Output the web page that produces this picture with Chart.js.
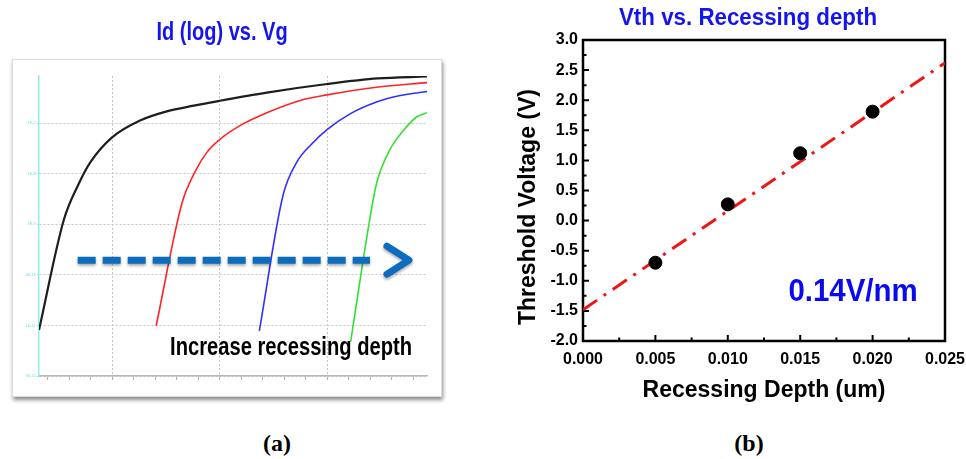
<!DOCTYPE html>
<html>
<head>
<meta charset="utf-8">
<script src="https://cdn.jsdelivr.net/npm/chart.js@4.4.1/dist/chart.umd.min.js"></script>
<style>
  html, body { margin: 0; padding: 0; background: #fff; overflow: hidden; }
  body { width: 966px; height: 459px; position: relative; }
  #frame { position: absolute; left: 12px; top: 59px; width: 428px; height: 336px; background: #fff;
           border: 1px solid #dcdcdc; box-shadow: 1px 3px 4px rgba(0,0,0,0.45); }
  canvas { position: absolute; }
  #idChart { left: 0; top: 0; }
  #vthChart { left: 510px; top: 0; }
  .cap { position: absolute; top: 430px; width: 60px; text-align: center; line-height: 28px;
         font: bold 24px "Liberation Serif", "Times New Roman", serif; color: #000; }
</style>
</head>
<body>
<div id="frame"></div>
<canvas id="idChart" width="444" height="410"></canvas>
<canvas id="vthChart" width="476" height="420"></canvas>
<div class="cap" style="left:247px">(a)</div>
<div class="cap" style="left:719px">(b)</div>
<script>
const SANS = '"Liberation Sans", Arial, sans-serif';

// (a) Id (log) vs Vg, four curves
const blackVg = [-0.68, -0.45, -0.31, -0.2, 0.0, 0.26, 0.51, 0.76, 1.0, 1.44, 2.0, 2.47, 2.93];
const blackId = [8.1e-12, 1.2e-9, 6.3e-9, 1.7e-8, 5.2e-8, 1.12e-7, 1.7e-7, 2.2e-7, 2.75e-7, 4.0e-7, 5.9e-7, 7.6e-7, 8.3e-7];
const redVg = [0.41, 0.65, 0.77, 0.88, 1.0, 1.19, 1.44, 1.75, 2.0, 2.46, 2.93];
const redId = [9.8e-12, 2.6e-9, 1.07e-8, 2.6e-8, 4.7e-8, 8.9e-8, 1.6e-7, 2.8e-7, 3.6e-7, 5.1e-7, 6.3e-7];
const blueVg = [1.37, 1.59, 1.72, 1.86, 2.0, 2.21, 2.46, 2.68, 2.93];
const blueId = [7.8e-12, 3.7e-9, 1.7e-8, 3.9e-8, 7.4e-8, 1.5e-7, 2.6e-7, 3.5e-7, 4.2e-7];
const greenVg = [2.22, 2.39, 2.46, 2.59, 2.71, 2.83, 2.93];
const greenId = [4.8e-12, 1.0e-9, 6.3e-9, 3.1e-8, 7.1e-8, 1.3e-7, 1.6e-7];
const vgTicks = [-0.6, -0.4, -0.2, 0, 0.2, 0.4, 0.6, 0.8, 1, 1.2, 1.4, 1.6, 1.8, 2, 2.2, 2.4, 2.6, 2.8];
const idTicks = [1e-12, 1e-11, 1e-10, 1e-9, 1e-8, 1e-7];
const arrowVg = [-0.32, 2.79];
const arrowId = 1.95e-10;

// (b) Vth vs recessing depth
const depthUm = [0.005, 0.010, 0.015, 0.020];
const vthV = [-0.70, 0.27, 1.12, 1.81];
const fitDepth = [0, 0.025];
const fitVth = [-1.48, 2.62];
const depthTicks = [0, 0.0025, 0.005, 0.0075, 0.01, 0.0125, 0.015, 0.0175, 0.02, 0.0225, 0.025];
const vthTicks = [-2, -1.75, -1.5, -1.25, -1, -0.75, -0.5, -0.25, 0, 0.25, 0.5, 0.75, 1, 1.25, 1.5, 1.75, 2, 2.25, 2.5, 2.75, 3];

function pts(xs, ys) {
    return xs.map((v, i) => ({x: v, y: ys[i]}));
}

function curve(xs, ys, color, w) {
    return {data: pts(xs, ys), showLine: true, borderColor: color, borderWidth: w,
            pointRadius: 0, cubicInterpolationMode: 'monotone', fill: false};
}

function isWhole(v, step) {
    const r = v / step;
    return Math.abs(r - Math.round(r)) < 1e-6;
}

// no condensed font installed, so squeeze bold sans horizontally
function narrowText(ctx, text, x, y, size, sx, color, rot) {
    ctx.save();
    ctx.translate(x, y);
    if (rot) ctx.rotate(rot);
    ctx.scale(sx, 1);
    ctx.fillStyle = color;
    ctx.font = 'bold ' + size + 'px ' + SANS;
    ctx.textAlign = 'center';
    ctx.textBaseline = 'middle';
    ctx.fillText(text, 0, 0);
    ctx.restore();
}

//arrow + caption on panel (a)
const recessArrow = {
    id: 'recessArrow',
    afterDatasetsDraw(chart) {
        const {ctx, scales: {x, y}} = chart;
        const x0 = x.getPixelForValue(arrowVg[0]);
        const x1 = x.getPixelForValue(arrowVg[1]);
        const yy = y.getPixelForValue(arrowId);
        ctx.save();
        ctx.shadowColor = 'rgba(0,0,0,0.35)';
        ctx.shadowBlur = 3;
        ctx.shadowOffsetY = 2;
        ctx.strokeStyle = '#0c6cbd';
        ctx.lineWidth = 7;
        ctx.setLineDash([18, 7]);
        ctx.beginPath();
        ctx.moveTo(x0, yy);
        ctx.lineTo(x1 - 42, yy);
        ctx.stroke();
        ctx.setLineDash([]);
        ctx.lineCap = 'round';
        ctx.lineJoin = 'round';
        ctx.lineWidth = 7;
        ctx.beginPath();
        ctx.moveTo(x1 - 25, yy - 14);
        ctx.lineTo(x1 - 3, yy);
        ctx.lineTo(x1 - 25, yy + 14);
        ctx.stroke();
        ctx.restore();

        narrowText(ctx, 'Increase recessing depth', x.getPixelForValue(1.665), y.getPixelForValue(3.6e-12), 25.5, 0.79, '#000');
        narrowText(ctx, 'Id (log) vs. Vg', 222, 33, 26, 0.77, '#1414f0');
    }
};

new Chart(document.getElementById('idChart'), {
    type: 'scatter',
    data: {
        datasets: [
            curve(blackVg, blackId, '#1e1e1e', 2.2),
            curve(redVg, redId, '#ff2424', 1.6),
            curve(blueVg, blueId, '#2f2fff', 1.6),
            curve(greenVg, greenId, '#33e033', 1.6)
        ]
    },
    options: {
        responsive: false,
        animation: false,
        layout: {padding: {left: 25, right: 17, top: 76, bottom: 30}},
        plugins: {
            legend: {display: false},
            tooltip: {enabled: false}
        },
        scales: {
            x: {
                type: 'linear', min: -0.68, max: 2.93,
                afterBuildTicks: s => { s.ticks = vgTicks.map(v => ({value: v})); },
                ticks: {display: false},
                grid: {color: c => isWhole(c.tick.value, 1) ? '#c6c6c6' : 'rgba(0,0,0,0)',
                       tickColor: '#b0b0b0', tickLength: 4},
                border: {color: '#b8b8b8', width: 1.5, dash: [2, 2]}
            },
            y: {
                type: 'logarithmic', min: 1e-12, max: 8.5e-7,
                afterBuildTicks: s => { s.ticks = idTicks.map(v => ({value: v})); },
                afterFit: s => { s.width = 14; },
                ticks: {color: '#6fe3ea', font: {size: 4}, padding: 1,
                        callback: v => '1E' + Math.round(Math.log10(v))},
                grid: {color: '#c6c6c6', tickColor: '#7fe8ee', tickLength: 2},
                border: {color: '#8ff0f4', width: 1.5, dash: [2, 2]}
            }
        }
    },
    plugins: [recessArrow]
});

//closed frame with inward ticks + labels on panel (b)
const frameTicks = {
    id: 'frameTicks',
    beforeDatasetsDraw(chart) {
        const {ctx, chartArea: a, scales: {x, y}} = chart;
        ctx.save();
        ctx.strokeStyle = '#000';
        ctx.lineWidth = 2;
        ctx.beginPath();
        x.ticks.forEach(t => {
            const px = x.getPixelForValue(t.value);
            ctx.moveTo(px, a.bottom);
            ctx.lineTo(px, a.bottom - (t.label ? 6 : 3.5));
        });
        y.ticks.forEach(t => {
            const py = y.getPixelForValue(t.value);
            ctx.moveTo(a.left, py);
            ctx.lineTo(a.left + (t.label ? 6 : 3.5), py);
        });
        ctx.stroke();
        ctx.lineWidth = 2.5;
        ctx.strokeRect(a.left, a.top, a.right - a.left, a.bottom - a.top);
        ctx.restore();
    },
    afterDatasetsDraw(chart) {
        const {ctx, scales: {x, y}} = chart;
        narrowText(ctx, '0.14V/nm', x.getPixelForValue(0.01865), y.getPixelForValue(-1.2), 31, 0.95, '#0a0af0');
        narrowText(ctx, 'Vth vs. Recessing depth', 238, 19, 23.5, 0.95, '#1414f0');
        narrowText(ctx, 'Threshold Voltage (V)', 19, 207, 23, 1, '#000', -Math.PI / 2);
    }
};

new Chart(document.getElementById('vthChart'), {
    type: 'scatter',
    data: {
        datasets: [
            {data: pts(depthUm, vthV), backgroundColor: '#000', borderColor: '#000', pointRadius: 6.5, showLine: false},
            {data: pts(fitDepth, fitVth), showLine: true, borderColor: '#f01414', borderWidth: 3,
             borderDash: [17, 8, 3, 8], pointRadius: 0, fill: false}
        ]
    },
    options: {
        responsive: false,
        animation: false,
        layout: {padding: {left: 0, right: 41, top: 40, bottom: 16}},
        plugins: {
            legend: {display: false},
            tooltip: {enabled: false}
        },
        scales: {
            x: {
                type: 'linear', min: 0, max: 0.025,
                afterBuildTicks: s => { s.ticks = depthTicks.map(v => ({value: v})); },
                afterFit: s => { s.height = 63; },
                ticks: {color: '#000', font: {family: SANS, size: 16, weight: 'bold'}, padding: 9,
                        maxRotation: 0, autoSkip: false,
                        callback: v => isWhole(v, 0.005) ? v.toFixed(3) : ''},
                grid: {display: false, drawTicks: false},
                border: {display: false},
                title: {display: true, text: 'Recessing Depth (um)', color: '#000',
                        font: {family: SANS, size: 23, weight: 'bold'}, padding: {top: 0, bottom: 0}}
            },
            y: {
                type: 'linear', min: -2, max: 3,
                afterBuildTicks: s => { s.ticks = vthTicks.map(v => ({value: v})); },
                afterFit: s => { s.width = 73; },
                ticks: {color: '#000', font: {family: SANS, size: 16, weight: 'bold'}, padding: 5,
                        autoSkip: false,
                        callback: v => isWhole(v, 0.5) ? v.toFixed(1) : ''},
                grid: {display: false, drawTicks: false},
                border: {display: false}
            }
        }
    },
    plugins: [frameTicks]
});
</script>
</body>
</html>
